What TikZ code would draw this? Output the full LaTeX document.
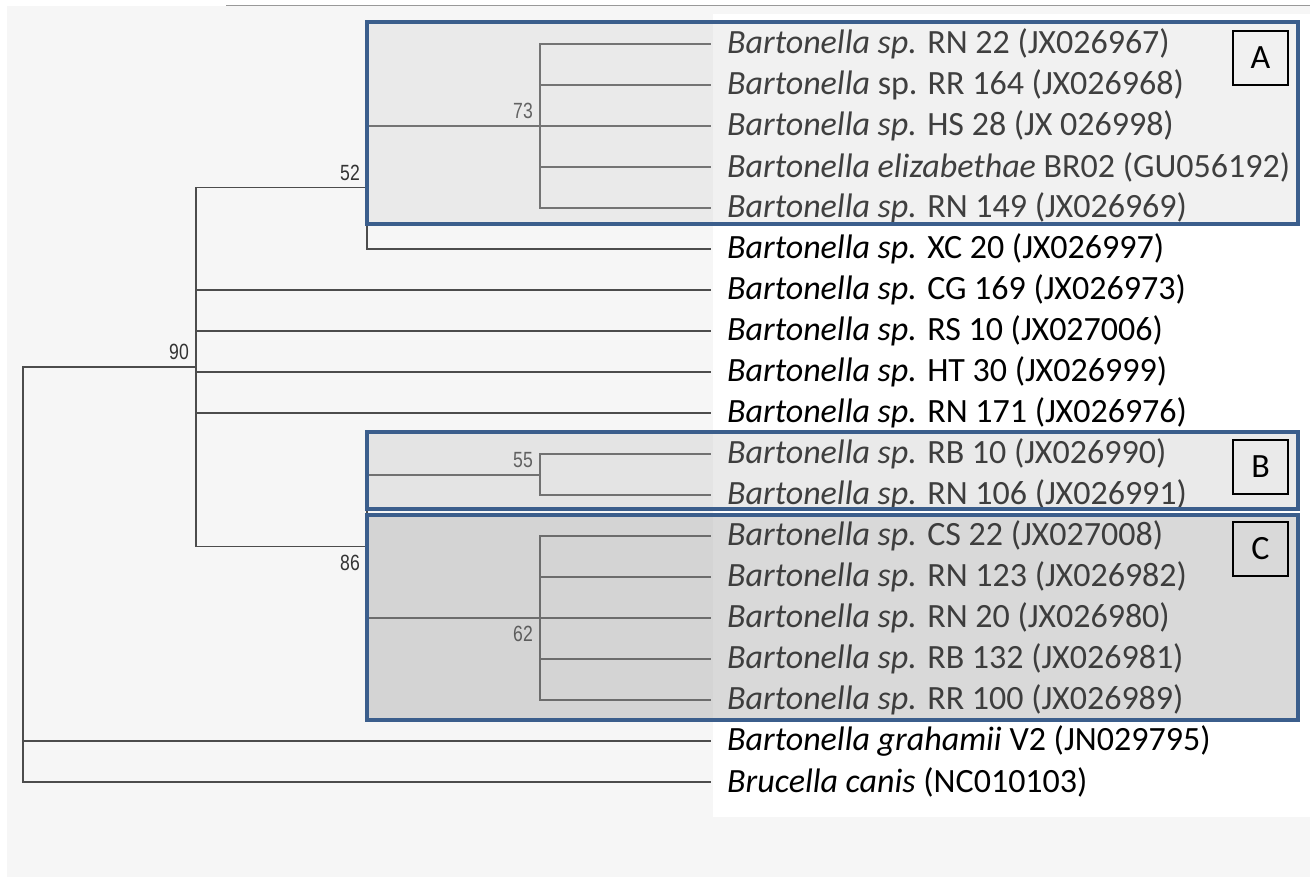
\documentclass[tikz,border=0pt]{standalone}
\usepackage{fontspec}
\setmainfont{Carlito}
\newfontfamily\bsfont[FakeStretch=0.8]{Liberation Sans}
\usepackage{tikz}
\definecolor{boxblue}{RGB}{59,94,140}
\definecolor{pagegray}{RGB}{246,246,246}
\definecolor{cladeA}{RGB}{209,209,209}
\definecolor{cladeB}{RGB}{191,191,191}
\definecolor{cladeC}{RGB}{159,159,159}
\tikzset{
	branch/.style={draw=black!70, line width=1.5pt},
	taxon/.style={anchor=west, inner xsep=16pt, inner ysep=1pt, font=\fontsize{34}{40}\selectfont},
	bsup/.style={anchor=south east, inner sep=0pt, xshift=-7pt, yshift=7pt, text=black!80, font=\bsfont\fontsize{22}{24}\selectfont},
	bsdown/.style={anchor=north east, inner sep=0pt, xshift=-7pt, yshift=-8pt, text=black!80, font=\bsfont\fontsize{22}{24}\selectfont},
	clade/.style={draw=boxblue, line width=4pt},
	cladetag/.style={draw=black, line width=1.5pt, minimum width=55pt, minimum height=54pt, inner sep=0pt, font=\fontsize{34}{40}\selectfont}
}

\begin{document}
\begin{tikzpicture}[x=1pt,y=-1pt]
			\useasboundingbox (0,0) rectangle (1310,877);
			\fill[pagegray] (7,6) rectangle (1310,877);
			\draw[black!40, line width=1pt] (226,6) -- (1310,6);
			\fill[white] (713,14) rectangle (1310,817);

			% taxa, one row each
			\foreach \lab[count=\j] in {
				{\textit{Bartonella sp.} RN 22 (JX026967)},
				{\textit{Bartonella} sp. RR 164 (JX026968)},
				{\textit{Bartonella sp.} HS 28 (JX 026998)},
				{\textit{Bartonella elizabethae} BR02 (GU056192)},
				{\textit{Bartonella sp.} RN 149 (JX026969)},
				{\textit{Bartonella sp.} XC 20 (JX026997)},
				{\textit{Bartonella sp.} CG 169 (JX026973)},
				{\textit{Bartonella sp.} RS 10 (JX027006)},
				{\textit{Bartonella sp.} HT 30 (JX026999)},
				{\textit{Bartonella sp.} RN 171 (JX026976)},
				{\textit{Bartonella sp.} RB 10 (JX026990)},
				{\textit{Bartonella sp.} RN 106 (JX026991)},
				{\textit{Bartonella sp.} CS 22 (JX027008)},
				{\textit{Bartonella sp.} RN 123 (JX026982)},
				{\textit{Bartonella sp.} RN 20 (JX026980)},
				{\textit{Bartonella sp.} RB 132 (JX026981)},
				{\textit{Bartonella sp.} RR 100 (JX026989)},
				{\textit{Bartonella grahamii} V2 (JN029795)},
				{\textit{Brucella canis} (NC010103)}}
			{
				\def\y{44+41*(\j-1)}
				\node[taxon] (t\j) at (711,{\y}) {\lab};
			}

			% inner nodes of the tree
			\coordinate (root) at (23,574.5);
			\coordinate (n90) at (196,367);
			\coordinate (n52) at (367,187.5);
			\coordinate (n73) at (540,126);
			\coordinate (n86) at (367,546.5);
			\coordinate (n55) at (540,475);
			\coordinate (n62) at (540,618);

			\draw[branch] (root) |- (n90);
			\foreach \k in {18,19} \draw[branch] (root) |- (t\k.west);
			\draw[branch] (n90) |- (n52);
			\draw[branch] (n90) |- (n86);
			\foreach \k in {7,...,10} \draw[branch] (n90) |- (t\k.west);
			\draw[branch] (n52) |- (n73);
			\draw[branch] (n52) |- (t6.west);
			\foreach \k in {1,...,5} \draw[branch] (n73) |- (t\k.west);
			\draw[branch] (n86) |- (n55);
			\draw[branch] (n86) |- (n62);
			\foreach \k in {11,12} \draw[branch] (n55) |- (t\k.west);
			\foreach \k in {13,...,17} \draw[branch] (n62) |- (t\k.west);

			% bootstrap values
			\node[bsup] (b90) at (n90) {90};
			\node[bsup] (b52) at (n52) {52};
			\node[bsup] (b73) at (n73) {73};
			\node[bsup] (b55) at (n55) {55};
			\node[bsdown] (b86) at (n86) {86};
			\node[bsdown] (b62) at (n62) {62};

			% clade boxes
			\draw[clade, fill=cladeA, fill opacity=0.3] (367,22) rectangle (1298,224);
			\draw[clade, fill=cladeB, fill opacity=0.325] (367,432) rectangle (1298,509);
			\draw[clade, fill=cladeC, fill opacity=0.39] (367,515) rectangle (1298,720);
			\node[cladetag] (tagA) at (1260.5,58) {A};
			\node[cladetag] (tagB) at (1260.5,467) {B};
			\node[cladetag] (tagC) at (1260.5,549) {C};
		\end{tikzpicture}
\end{document}
